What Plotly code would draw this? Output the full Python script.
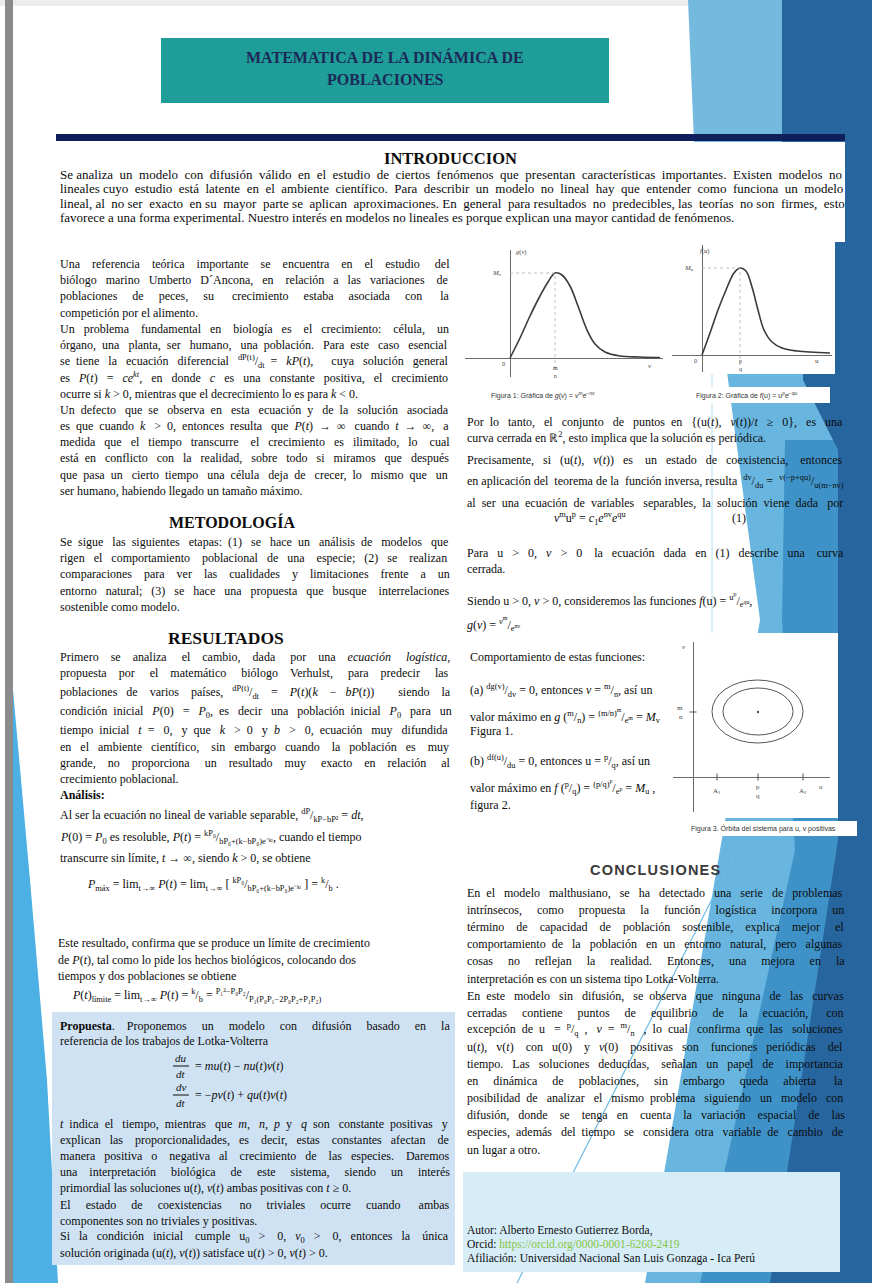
import re
import unicodedata
import plotly.graph_objects as go

W, H = 872, 1283

# ---------------- data ----------------
fig1_v = [0, 10, 20, 30, 38, 45, 52, 60, 68, 77, 85, 95, 110, 130, 150]
fig1_g = [0, 20, 42, 62, 76, 85, 83, 72, 52, 28, 14, 6, 2, 1, 0.5]
fig2_u = [0, 8, 16, 24, 32, 38, 44, 50, 56, 62, 70, 80, 95, 128]
fig2_f = [0, 22, 45, 65, 82, 87, 84, 68, 45, 25, 13, 7, 4, 2]
orbit_u0 = [19, 30]
orbit_u1 = [110, 100]
orbit_v0 = [34, 42]
orbit_v1 = [97, 89]
equil_u = [65]
equil_v = [65]
fig3_uticks = [24, 65, 110]
fig3_ulabels = ["A<sub>1</sub>", "p<br>q", "A<sub>2</sub>"]
fig3_vticks = [65]
fig3_vlabels = ["m<br>n"]

# ---------------- poster text ----------------
title_lines = ["MATEMATICA DE LA DINÁMICA DE", "POBLACIONES"]

intro_lines = [
    "Se analiza un modelo con difusión válido en el estudio de ciertos fenómenos que presentan características importantes. Existen modelos no",
    "lineales cuyo estudio está latente en el ambiente científico. Para describir un modelo no lineal hay que entender como funciona un modelo",
    "lineal, al no ser exacto en su mayor parte se aplican aproximaciones. En general para resultados no predecibles, las teorías no son firmes, esto",
    "favorece a una forma experimental. Nuestro interés en modelos no lineales es porque explican una mayor cantidad de fenómenos.",
]
intro_just = [1, 1, 1, 0]

left1_lines = [
    "Una referencia teórica importante se encuentra en el estudio del",
    "biólogo marino Umberto D´Ancona, en relación a las variaciones de",
    "poblaciones de peces, su crecimiento estaba asociada con la",
    "competición por el alimento.",
    "Un problema fundamental en biología es el crecimiento: célula, un",
    "órgano, una planta, ser humano, una población. Para este caso esencial",
    "se tiene la ecuación diferencial <sup>dP(t)</sup>/<sub>dt</sub> = <i>kP</i>(<i>t</i>),  cuya solución general",
    "es <i>P</i>(<i>t</i>) = <i>ce</i><sup><i>kt</i></sup>, en donde <i>c</i> es una constante positiva, el crecimiento",
    "ocurre si <i>k</i> &gt; 0, mientras que el decrecimiento lo es para <i>k</i> &lt; 0.",
    "Un defecto que se observa en esta ecuación y de la solución asociada",
    "es que cuando <i>k</i> &gt; 0, entonces resulta que <i>P</i>(<i>t</i>) → ∞ cuando <i>t</i> → ∞, a",
    "medida que el tiempo transcurre el crecimiento es ilimitado, lo cual",
    "está en conflicto con la realidad, sobre todo si miramos que después",
    "que pasa un cierto tiempo una célula deja de crecer, lo mismo que un",
    "ser humano, habiendo llegado un tamaño máximo.",
]
left1_just = [1, 1, 1, 0, 1, 1, 1, 1, 0, 1, 1, 1, 1, 1, 0]

metod_lines = [
    "Se sigue las siguientes etapas: (1) se hace un análisis de modelos que",
    "rigen el comportamiento poblacional de una especie; (2) se realizan",
    "comparaciones para ver las cualidades y limitaciones frente a un",
    "entorno natural; (3) se hace una propuesta que busque interrelaciones",
    "sostenible como modelo.",
]
metod_just = [1, 1, 1, 1, 0]

result_lines = [
    "Primero se analiza el cambio, dada por una <i>ecuación logística</i>,",
    "propuesta por el matemático biólogo Verhulst, para predecir las",
    "poblaciones de varios países, <sup>dP(t)</sup>/<sub>dt</sub> = <i>P</i>(<i>t</i>)(<i>k</i> − <i>bP</i>(<i>t</i>))  siendo la",
    "condición inicial <i>P</i>(0) = <i>P</i><sub>0</sub>, es decir una población inicial <i>P</i><sub>0</sub> para un",
    "tiempo inicial <i>t</i> = 0, y que <i>k</i> &gt; 0 y <i>b</i> &gt; 0, ecuación muy difundida",
    "en el ambiente científico, sin embargo cuando la población es muy",
    "grande, no proporciona un resultado muy exacto en relación al",
    "crecimiento poblacional.",
    "<b>Análisis:</b>",
    "Al ser la ecuación no lineal de variable separable, <sup>dP</sup>/<sub>kP−bP²</sub> = <i>dt</i>,",
    "<i>P</i>(0) = <i>P</i><sub>0</sub> es resoluble, <i>P</i>(<i>t</i>) = <sup>kP₀</sup>/<sub>bP₀+(k−bP₀)e⁻ᵏᵗ</sub>, cuando el tiempo",
    "transcurre sin límite, <i>t</i> → ∞, siendo <i>k</i> &gt; 0, se obtiene",
]
result_just = [1, 1, 1, 1, 1, 1, 1, 0, 0, 0, 0, 0]

pmax_line = "<i>P</i><sub>máx</sub> = lim<sub>t→∞</sub> <i>P</i>(<i>t</i>) = lim<sub>t→∞</sub> [ <sup>kP₀</sup>/<sub>bP₀+(k−bP₀)e⁻ᵏᵗ</sub> ] = <sup>k</sup>/<sub>b</sub> ."

este_lines = [
    "Este resultado, confirma que se produce un límite de crecimiento",
    "de <i>P</i>(<i>t</i>), tal como lo pide los hechos biológicos, colocando dos",
    "tiempos y dos poblaciones se obtiene",
]
plim_line = "<i>P</i>(<i>t</i>)<sub>límite</sub> = lim<sub>t→∞</sub> <i>P</i>(<i>t</i>) = <sup>k</sup>/<sub>b</sub> = <sup>P₁²−P₀P₂</sup>/<sub>P₁(P₀P₁−2P₀P₂+P₁P₂)</sub>"

prop_head = [
    "<b>Propuesta</b>. Proponemos un modelo con difusión basado en la",
    "referencia de los trabajos de Lotka-Volterra",
]
prop_head_just = [1, 0]
prop_eqs = [("du", "dt", "= <i>mu</i>(<i>t</i>) − <i>nu</i>(<i>t</i>)<i>v</i>(<i>t</i>)"),
            ("dv", "dt", "= −<i>pv</i>(<i>t</i>) + <i>qu</i>(<i>t</i>)<i>v</i>(<i>t</i>)")]
prop_lines = [
    "<i>t</i> indica el tiempo, mientras que <i>m, n, p</i> y <i>q</i> son constante positivas y",
    "explican las proporcionalidades, es decir, estas constantes afectan de",
    "manera positiva o negativa al crecimiento de las especies. Daremos",
    "una interpretación biológica de este sistema, siendo un interés",
    "primordial las soluciones u(<i>t</i>), <i>v</i>(<i>t</i>) ambas positivas con <i>t</i> ≥ 0.",
    "El estado de coexistencias no triviales ocurre cuando ambas",
    "componentes son no triviales y positivas.",
    "Si la condición inicial cumple u<sub>0</sub> &gt; 0, <i>v</i><sub>0</sub> &gt; 0, entonces la única",
    "solución originada (u(<i>t</i>), <i>v</i>(<i>t</i>)) satisface u(<i>t</i>) &gt; 0, <i>v</i>(<i>t</i>) &gt; 0.",
]
prop_just = [1, 1, 1, 1, 0, 1, 0, 1, 0]

right1_lines = [
    "Por lo tanto, el conjunto de puntos en {(u(<i>t</i>), <i>v</i>(<i>t</i>))/<i>t</i> ≥ 0}, es una",
    "curva cerrada en ℝ<sup>2</sup>, esto implica que la solución es periódica.",
    "Precisamente, si (u(<i>t</i>), <i>v</i>(<i>t</i>)) es un estado de coexistencia, entonces",
    "en aplicación del teorema de la función inversa, resulta <sup>dv</sup>/<sub>du</sub> = <sup>v(−p+qu)</sup>/<sub>u(m−nv)</sub>",
    "al ser una ecuación de variables separables, la solución viene dada por",
]
right1_just = [1, 0, 1, 1, 1]
eq1_text = "<i>v</i><sup>m</sup>u<sup>p</sup> = <i>c</i><sub>1</sub><i>e</i><sup>nv</sup><i>e</i><sup>qu</sup>"
right2_lines = [
    "Para u &gt; 0, <i>v</i> &gt; 0 la ecuación dada en (1) describe una curva",
    "cerrada.",
    "Siendo u &gt; 0, <i>v</i> &gt; 0, consideremos las funciones <i>f</i>(u) = <sup>u<sup>p</sup></sup>/<sub>e<sup>qu</sup></sub>,",
    "<i>g</i>(<i>v</i>) = <sup><i>v</i><sup>m</sup></sup>/<sub>e<sup>nv</sup></sub>",
]
right2_just = [1, 0, 0, 0]
right3_lines = [
    "Comportamiento de estas funciones:",
    "(a) <sup>dg(v)</sup>/<sub>dv</sub> = 0, entonces <i>v</i> = <sup>m</sup>/<sub>n</sub>, así un",
    "valor máximo en <i>g</i> (<sup>m</sup>/<sub>n</sub>) = <sup>(m/n)<sup>m</sup></sup>/<sub>e<sup>m</sup></sub> = <i>M</i><sub>v</sub>",
    "Figura 1.",
    "(b) <sup>df(u)</sup>/<sub>du</sub> = 0, entonces u = <sup>p</sup>/<sub>q</sub>, así un",
    "valor máximo en <i>f</i> (<sup>p</sup>/<sub>q</sub>) = <sup>(p/q)<sup>p</sup></sup>/<sub>e<sup>p</sup></sub> = <i>M</i><sub>u</sub> ,",
    "figura 2.",
]

concl_lines = [
    "En el modelo malthusiano, se ha detectado una serie de problemas",
    "intrínsecos, como propuesta la función logística incorpora un",
    "término de capacidad de población sostenible, explica mejor el",
    "comportamiento de la población en un entorno natural, pero algunas",
    "cosas no reflejan la realidad. Entonces, una mejora en la",
    "interpretación es con un sistema tipo Lotka-Volterra.",
    "En este modelo sin difusión, se observa que ninguna de las curvas",
    "cerradas contiene puntos de equilibrio de la ecuación, con",
    "excepción de u = <sup>p</sup>/<sub>q</sub> , <i>v</i> = <sup>m</sup>/<sub>n</sub> , lo cual confirma que las soluciones",
    "u(<i>t</i>), v(<i>t</i>) con u(0) y <i>v</i>(0) positivas son funciones periódicas del",
    "tiempo. Las soluciones deducidas, señalan un papel de importancia",
    "en dinámica de poblaciones, sin embargo queda abierta la",
    "posibilidad de analizar el mismo problema siguiendo un modelo con",
    "difusión, donde se tenga en cuenta la variación espacial de las",
    "especies, además del tiempo se considera otra variable de cambio de",
    "un lugar a otro.",
]
concl_just = [1] * 5 + [0] + [1] * 9 + [0]

author_lines = [
    "Autor: Alberto Ernesto Gutierrez Borda,",
    "Orcid: <span style='color:#86c540'>https://orcid.org/0000-0001-6260-2419</span>",
    "Afiliación: Universidad Nacional San Luis Gonzaga - Ica Perú",
]

fig_captions = [
    "Figura 1: Gráfica de <i>g</i>(<i>v</i>) = <i>v</i><sup>m</sup><i>e</i><sup>−nv</sup>",
    "Figura 2: Gráfica de <i>f</i>(u) = u<sup>p</sup><i>e</i><sup>−qu</sup>",
    "Figura 3. Órbita del sistema para u, v positivas",
]

# ---------------- text width helpers (Times metrics) ----------------
CW = {' ': 250, '\u00a0': 250, 'a': 444, 'b': 500, 'c': 444, 'd': 500, 'e': 444, 'f': 333, 'g': 500,
      'h': 500, 'i': 278, 'j': 278, 'k': 500, 'l': 278, 'm': 778, 'n': 500, 'o': 500, 'p': 500,
      'q': 500, 'r': 333, 's': 389, 't': 278, 'u': 500, 'v': 500, 'w': 722, 'x': 500, 'y': 500,
      'z': 444, 'A': 722, 'B': 667, 'C': 667, 'D': 722, 'E': 611, 'F': 556, 'G': 722, 'H': 722,
      'I': 333, 'J': 389, 'K': 722, 'L': 611, 'M': 889, 'N': 722, 'O': 722, 'P': 556, 'Q': 722,
      'R': 667, 'S': 556, 'T': 611, 'U': 722, 'V': 722, 'W': 944, 'X': 722, 'Y': 722, 'Z': 611,
      '.': 250, ',': 250, ':': 278, ';': 278, '(': 333, ')': 333, '-': 333, '−': 564, '=': 564,
      '>': 564, '<': 564, '+': 564, '/': 278, '{': 480, '}': 480, '[': 333, ']': 333, '→': 1000,
      '∞': 713, '≥': 549, '´': 333, 'ℝ': 722, '²': 300, '₀': 300, '₁': 300, '₂': 300}
for d in "0123456789":
    CW[d] = 500
TAG = re.compile(r'(<[^<>]+>)')


def cw(ch):
    if ch in CW:
        return CW[ch]
    base = unicodedata.normalize('NFD', ch)[0]
    return CW.get(base, 450)


def unent(t):
    return t.replace('&lt;', '<').replace('&gt;', '>').replace('&amp;', '&')


def tagname(p):
    return p.strip('</>').split()[0].lower()


def width_em(s):
    depth, bold, tot = 0, False, 0.0
    for p in TAG.split(s):
        if not p:
            continue
        if TAG.fullmatch(p):
            name = tagname(p)
            closing = p.startswith('</')
            if name in ('sup', 'sub'):
                depth += -1 if closing else 1
            elif name == 'b':
                bold = not closing
            continue
        sc = (0.7 ** depth) * (1.06 if bold else 1.0)
        tot += sum(cw(c) for c in unent(p)) * sc
    return tot / 1000.0


def justify(s, target, size):
    nat = width_em(s) * size
    parts = [p for p in TAG.split(s) if p]
    depth = 0
    gaps = 0
    for p in parts:
        if TAG.fullmatch(p):
            if tagname(p) in ('sup', 'sub'):
                depth += -1 if p.startswith('</') else 1
        elif depth == 0:
            gaps += p.count(' ')
    n = int((target - nat) / (0.25 * size))
    if n <= 0 or gaps == 0:
        return s
    out, depth, j = [], 0, 0
    for p in parts:
        if TAG.fullmatch(p):
            if tagname(p) in ('sup', 'sub'):
                depth += -1 if p.startswith('</') else 1
            out.append(p)
            continue
        if depth > 0:
            out.append(p)
            continue
        buf = []
        for c in p:
            buf.append(c)
            if c == ' ':
                k = (j + 1) * n // gaps - j * n // gaps
                buf.append('\u00a0' * k)
                j += 1
        out.append(''.join(buf))
    return ''.join(out)


def fit_size(lines, just, target, base):
    m = max(width_em(l) for l, j in zip(lines, just) if j)
    return round(min(base, target * 0.985 / m), 1)


# ---------------- figure ----------------
fig = go.Figure()
shapes = []
annos = []
SERIF = "Liberation Serif"
SANS = "Liberation Sans"
TXT = "#0c0c0c"


def rect(x0, y0, x1, y1, color, layer="below"):
    shapes.append(dict(type="rect", xref="x", yref="y", x0=x0, y0=y0, x1=x1, y1=y1,
                       fillcolor=color, line=dict(width=0), layer=layer))


def poly(pts, color, layer="below"):
    path = "M " + " L ".join(f"{x},{y}" for x, y in pts) + " Z"
    shapes.append(dict(type="path", xref="x", yref="y", path=path, fillcolor=color,
                       line=dict(width=0), layer=layer))


def seg(x0, y0, x1, y1, color, w=1, layer="below", xref="x", yref="y"):
    shapes.append(dict(type="line", xref=xref, yref=yref, x0=x0, y0=y0, x1=x1, y1=y1,
                       line=dict(color=color, width=w), layer=layer))


def text(x, y, s, size, family=SERIF, color=TXT, anchor="left", xref="x", yref="y"):
    annos.append(dict(x=x, y=y, xref=xref, yref=yref, text=s, showarrow=False,
                      xanchor=anchor, yanchor="middle",
                      align="center" if anchor == "center" else anchor,
                      font=dict(family=family, size=size, color=color)))


def block(lines, just, x0, x1, ys, base):
    size = fit_size(lines, just, x1 - x0, base) if any(just) else base
    for l, j, y in zip(lines, just, ys):
        s = justify(l, x1 - x0 - 2, size) if j else l
        text(x0, y, s, size)
    return size


# background decorations
rect(0, 0, 688, 6, "#ececec")
poly([(688, 0), (782, 0), (782, 142), (694, 142)], "#74b9de")
poly([(727, 372), (872, 372), (872, 1283), (645, 1283), (720, 850), (760, 620)], "#68b6df")
poly([(785, 440), (872, 440), (872, 1283), (700, 1283), (795, 850), (782, 620)], "#3f92c8")
poly([(782, 0), (872, 0), (872, 1283), (770, 1283), (838, 840), (838, 450), (803, 380), (803, 142), (782, 142)], "#27659f")
poly([(13, 690), (13, 1283), (58, 1283), (47, 1080), (30, 880)], "#4cb0e4")
rect(5, 0, 13, H, "#8b8b8b")
seg(712, 372, 712, 650, "#b6def2", 1)
seg(737, 850, 517, 1283, "#6dbbe4", 1.2)

# white / coloured panels
rect(45, 142, 845, 242, "white")
rect(460, 242, 835, 374, "white")
rect(662, 387, 830, 403, "white")
rect(673, 633, 838, 818, "white")
rect(670, 821, 857, 836, "white")
rect(52, 1012, 455, 1265, "#cfe2f3")
rect(463, 1172, 840, 1272, "#d6edf8")
rect(161, 38, 609, 103, "#1f9d99")
rect(56, 134, 845, 141, "#0f1f5c")

# title and headings
text(385, 57, "<b>" + title_lines[0] + "</b>", 16, color="#1b2957", anchor="center")
text(385, 79, "<b>" + title_lines[1] + "</b>", 16, color="#1b2957", anchor="center")
text(450, 158, "<b>INTRODUCCION</b>", 16.5, anchor="center")
text(232, 522, "<b>METODOLOGÍA</b>", 16, anchor="center")
text(226, 638, "<b>RESULTADOS</b>", 17.5, anchor="center")
text(655, 870, "<b>" + "\u200a".join("CONCLUSIONES") + "</b>", 14.5, family=SANS, color="#3a3a3a", anchor="center")

# text blocks
block(intro_lines, intro_just, 58, 845, [174, 188.5, 203, 217.5], 13)
block(left1_lines, left1_just, 58, 450, [264 + 16.2 * i for i in range(15)], 12)
block(metod_lines, metod_just, 58, 450, [542 + 16.2 * i for i in range(5)], 12)
block(result_lines, result_just, 58, 450,
      [657, 673, 692, 712, 730, 747, 763, 779, 795, 815, 837, 858], 12)
text(85, 884, pmax_line, 12)
block(este_lines, [0, 0, 0], 56, 450, [943, 960, 976], 12)
text(70, 995, plim_line, 12)
block(prop_head, prop_head_just, 58, 450, [1026, 1041], 12)
for (num, den, rhs), yc in zip(prop_eqs, [1066, 1095]):
    text(181, yc - 8, "<i>" + num + "</i>", 11, anchor="center")
    seg(173, yc, 189, yc, TXT, 1, layer="above")
    text(181, yc + 8, "<i>" + den + "</i>", 11, anchor="center")
    text(193, yc, rhs, 12)
block(prop_lines, prop_just, 58, 450, [1124 + 16.1 * i for i in range(9)], 12)

block(right1_lines, right1_just, 465, 845, [422, 437, 460, 481, 503], 12)
text(590, 518, eq1_text, 12, anchor="center")
text(730, 518, "(1)", 12)
block(right2_lines, right2_just, 465, 845, [553, 569, 600, 624], 12)
for l, y in zip(right3_lines, [657, 690, 716, 731, 761, 787, 805]):
    text(468, y, l, 12)

block(concl_lines, concl_just, 465, 845, [893 + 17.1 * i for i in range(16)], 12)
for l, y in zip(author_lines, [1230, 1244, 1258]):
    text(465, y, l, 11.5)

text(543, 395, fig_captions[0], 7, family=SANS, color="#333", anchor="center")
text(746, 395, fig_captions[1], 7, family=SANS, color="#333", anchor="center")
text(763, 828, fig_captions[2], 7, family=SANS, color="#333", anchor="center")

# ---------------- inset figures ----------------
def xdom(a, b):
    return [a / W, b / W]


def ydom(top, bottom):
    return [1 - bottom / H, 1 - top / H]


inset_axis = dict(showgrid=False, showticklabels=False, ticks="", showline=False,
                  zeroline=True, zerolinecolor="#6a6a6a", zerolinewidth=1, fixedrange=True)

fig.add_trace(go.Scatter(x=fig1_v, y=fig1_g, mode="lines", line=dict(color="#3a3a3a", width=1.6, shape="spline"),
                         xaxis="x2", yaxis="y2", hoverinfo="skip"))
fig.add_trace(go.Scatter(x=fig2_u, y=fig2_f, mode="lines", line=dict(color="#3a3a3a", width=1.6, shape="spline"),
                         xaxis="x3", yaxis="y3", hoverinfo="skip"))

i1 = fig1_g.index(max(fig1_g))
i2 = fig2_f.index(max(fig2_f))
for xs, ys, ax, ay, lo in [(fig1_v, fig1_g, "x2", "y2", -12), (fig2_u, fig2_f, "x3", "y3", -10)]:
    k = ys.index(max(ys))
    fig.add_trace(go.Scatter(x=[0, xs[k], xs[k], xs[k]], y=[ys[k], ys[k], ys[k], lo], mode="lines",
                             line=dict(color="#b0b0b0", width=0.8, dash="dot"),
                             xaxis=ax, yaxis=ay, hoverinfo="skip"))

# fig 3: orbits
for a, b, c, d in zip(orbit_u0, orbit_u1, orbit_v0, orbit_v1):
    shapes.append(dict(type="circle", xref="x4", yref="y4", x0=a, x1=b, y0=c, y1=d,
                       line=dict(color="#555", width=1), layer="above"))
fig.add_trace(go.Scatter(x=equil_u, y=equil_v, mode="markers", marker=dict(size=2.5, color="#555"),
                         xaxis="x4", yaxis="y4", hoverinfo="skip"))
fig.add_trace(go.Scatter(x=fig3_uticks, y=[0] * len(fig3_uticks), mode="markers",
                         marker=dict(symbol="line-ns-open", size=5, color="#555", line=dict(width=1)),
                         xaxis="x4", yaxis="y4", hoverinfo="skip"))
fig.add_trace(go.Scatter(x=[0] * len(fig3_vticks), y=fig3_vticks, mode="markers",
                         marker=dict(symbol="line-ew-open", size=5, color="#555", line=dict(width=1)),
                         xaxis="x4", yaxis="y4", hoverinfo="skip"))

# fig 1 labels
text(4, 106, "<i>g</i>(<i>v</i>)", 6.5, color="#444", xref="x2", yref="y2")
text(-6, fig1_g[i1], "<i>M</i><sub>v</sub>", 7, color="#444", anchor="right", xref="x2", yref="y2")
text(fig1_v[i1], -14, "m<br>n", 6, color="#444", anchor="center", xref="x2", yref="y2")
text(-3, -6, "0", 6, color="#444", anchor="right", xref="x2", yref="y2")
text(140, -8, "<i>v</i>", 7, color="#444", anchor="center", xref="x2", yref="y2")
# fig 2 labels
text(-4, 104, "<i>f</i>(u)", 6.5, color="#444", anchor="left", xref="x3", yref="y3")
text(-6, fig2_f[i2], "<i>M</i><sub>u</sub>", 7, color="#444", anchor="right", xref="x3", yref="y3")
text(fig2_u[i2], -10, "p<br>q", 6, color="#444", anchor="center", xref="x3", yref="y3")
text(-3, -6, "0", 6, color="#444", anchor="right", xref="x3", yref="y3")
text(115, -6, "u", 7, color="#444", anchor="center", xref="x3", yref="y3")
# fig 3 labels
for u, lab in zip(fig3_uticks, fig3_ulabels):
    text(u, -14, lab, 7, color="#444", anchor="center", xref="x4", yref="y4")
for v, lab in zip(fig3_vticks, fig3_vlabels):
    text(-8, v, lab, 7, color="#444", anchor="right", xref="x4", yref="y4")
text(128, -10, "<i>u</i>", 7, color="#444", anchor="center", xref="x4", yref="y4")
text(-5, 130, "<i>v</i>", 7, color="#444", anchor="right", xref="x4", yref="y4")

fig.update_layout(
    width=W, height=H, margin=dict(l=0, r=0, t=0, b=0),
    paper_bgcolor="white", plot_bgcolor="rgba(0,0,0,0)", showlegend=False,
    xaxis=dict(range=[0, W], domain=[0, 1], visible=False, fixedrange=True),
    yaxis=dict(range=[H, 0], domain=[0, 1], visible=False, fixedrange=True),
    xaxis2=dict(domain=xdom(465, 663), range=[-45, 153], anchor="y2", **inset_axis),
    yaxis2=dict(domain=ydom(250, 377), range=[-19, 108], anchor="x2", **inset_axis),
    xaxis3=dict(domain=xdom(672, 832), range=[-30, 130], anchor="y3", **inset_axis),
    yaxis3=dict(domain=ydom(245, 372), range=[-17, 110], anchor="x3", **inset_axis),
    xaxis4=dict(domain=xdom(673, 830), range=[-20, 137], anchor="y4", **inset_axis),
    yaxis4=dict(domain=ydom(642, 812), range=[-35, 135], anchor="x4", **inset_axis),
    shapes=shapes, annotations=annos,
)

fig.write_html("out.html", config={"displayModeBar": False},
               post_script="document.body.style.margin='0';document.body.style.overflow='hidden';")
